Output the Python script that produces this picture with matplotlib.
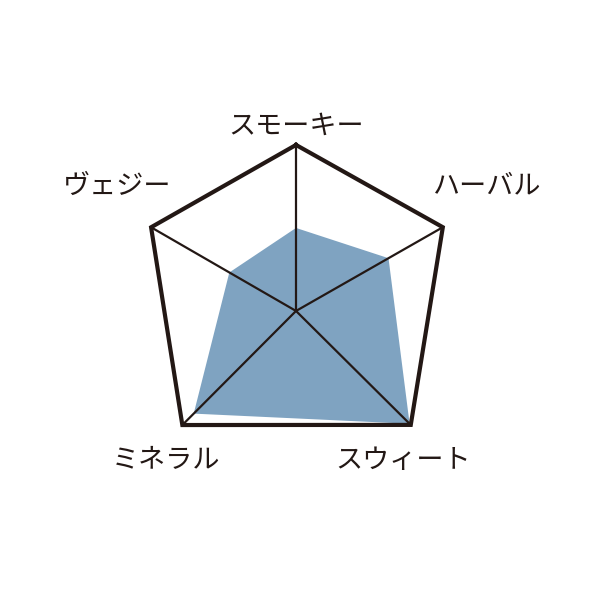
import numpy as np
import matplotlib
matplotlib.use("Agg")
import matplotlib.pyplot as plt

plt.rcParams['font.family'] = ['Noto Sans CJK JP', 'DejaVu Sans']

# Data
categories = ["スモーキー", "ハーバル", "スウィート", "ミネラル", "ヴェジー"]
values = [0.50, 0.63, 0.99, 0.90, 0.46]   # fraction of full scale
full_scale = 1.0

# Layout (axis directions/lengths, irregular as in reference)
angles_deg = [90, 29.7, -44.8, -134.9, 150.0]
axis_len = [1.0, 1.018, 0.974, 0.970, 1.008]
label_offsets = [(0, 0.113), (0.27, 0.247), (-0.046, -0.213), (-0.099, -0.213), (-0.207, 0.247)]

line_color = "#231815"
fill_color = "#7fa3c1"

fig = plt.figure(figsize=(6, 6), dpi=100)
ax = fig.add_axes([0, 0, 1, 1])
ax.set_xlim(-1.783, 1.831)
ax.set_ylim(-1.741, 1.873)
ax.set_aspect('equal')
ax.axis('off')

ang = np.deg2rad(angles_deg)
L = np.array(axis_len)
vx = full_scale * L * np.cos(ang)
vy = full_scale * L * np.sin(ang)

# Data fill
v = np.array(values) * L
ax.fill(v * np.cos(ang), v * np.sin(ang), color=fill_color, lw=0, zorder=1)

# Spokes
for x, y in zip(vx, vy):
    ax.plot([0, x], [0, y], color=line_color, lw=1.6, zorder=2, solid_capstyle='round')

# Outline
ax.plot(np.append(vx, vx[0]), np.append(vy, vy[0]), color=line_color, lw=3.0,
        zorder=3, solid_joinstyle='miter')

# Labels
for cat, x, y, (dx, dy) in zip(categories, vx, vy, label_offsets):
    ax.text(x + dx, y + dy, cat, ha='center', va='center', fontsize=19.5,
            color=line_color)

fig.savefig("out.png", dpi=100, facecolor="white")
